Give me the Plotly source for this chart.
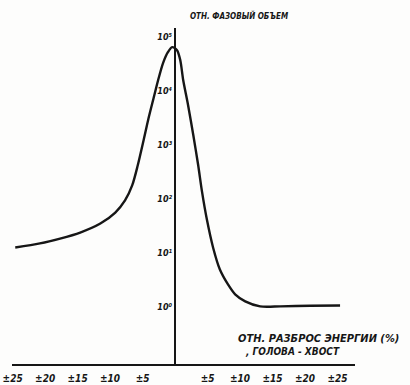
import plotly.graph_objects as go

# Energy spread (%), head (negative) - tail (positive)
energy_spread = [-24.6, -20.8, -17.7, -14.6, -11.5, -9.2, -7.7, -6.6, -5.75, -4.8, -4.1, -3.3, -2.6,
                 -1.85, -1.1, -0.45, 0.3, 0.8, 1.25, 2.0, 2.8, 3.55, 4.15, 4.9, 5.85, 6.9, 8.15,
                 9.25, 10.8, 13.1, 16.2, 20.8, 25.4]
# Relative phase volume
phase_volume = [12.8, 15.2, 18.7, 24.2, 35.5, 56.6, 95, 180, 420, 1300, 3100, 7500, 16100,
                33100, 52800, 65300, 57500, 37700, 16100, 5560, 1560, 434, 138, 42, 12.8, 5.0, 2.65,
                1.74, 1.29, 1.04, 1.04, 1.07, 1.08]

x_tick_vals = [-25, -20, -15, -10, -5, 5, 10, 15, 20, 25]
x_tick_text = ["±25", "±20", "±15", "±10", "±5", "±5", "±10", "±15", "±20", "±25"]
y_tick_vals = [1, 10, 100, 1000, 10000, 100000]
y_tick_text = ["10⁰", "10¹", "10²", "10³", "10⁴", "10⁵"]

y_title = "ОТН. ФАЗОВЫЙ ОБЪЕМ"
x_title_1 = "ОТН. РАЗБРОС ЭНЕРГИИ (%)"
x_title_2 = ", ГОЛОВА - ХВОСТ"

ink = "#161616"
fam = "DejaVu Sans Condensed, DejaVu Sans"
font = dict(family=fam, size=8, color=ink, weight="bold", style="italic")
tfont = dict(family=fam, size=10, color=ink, weight="bold", style="italic")
yfont = dict(family=fam, size=9, color=ink, weight="bold", style="italic")
x1font = dict(family=fam, size=11, color=ink, weight="bold", style="italic")
x2font = dict(family=fam, size=10, color=ink, weight="bold", style="italic")

fig = go.Figure()
fig.add_trace(go.Scatter(x=energy_spread, y=phase_volume, mode="lines",
                         line=dict(color=ink, width=2.4, shape="spline", smoothing=0.8),
                         hoverinfo="skip", showlegend=False))

x_range = [-25.1, 27.7]
y_pos = (0 - x_range[0]) / (x_range[1] - x_range[0])

fig.update_layout(
    width=410, height=385,
    margin=dict(l=12, r=55, t=28, b=21, autoexpand=False),
    paper_bgcolor="#fdfdfc", plot_bgcolor="#fdfdfc",
    font=font,
    xaxis=dict(range=x_range, showgrid=False, zeroline=False, showline=True, automargin=False,
               linecolor=ink, linewidth=1.6, tickvals=x_tick_vals, ticktext=x_tick_text,
               ticks="", tickfont=tfont, ticklabelstandoff=4),
    yaxis=dict(type="log", range=[-1.05, 5.17], showgrid=False, zeroline=False, automargin=False,
               showline=True, linecolor=ink, linewidth=2.2, anchor="free", position=y_pos,
               tickvals=y_tick_vals, ticktext=y_tick_text, ticks="", tickfont=yfont),
    annotations=[
        dict(text=y_title, xref="paper", yref="paper", x=(188 - 12) / 343, y=1.0,
             yshift=13, xanchor="left", yanchor="middle", showarrow=False, font=font),
        dict(text=x_title_1, xref="paper", yref="paper", x=(236 - 12) / 343, y=(364 - 338) / 336,
             xanchor="left", yanchor="middle", showarrow=False, font=x1font),
        dict(text=x_title_2, xref="paper", yref="paper", x=(243 - 12) / 343, y=(364 - 351) / 336,
             xanchor="left", yanchor="middle", showarrow=False, font=x2font),
    ],
)

fig.write_html("out.html", config={"displayModeBar": False},
               post_script="document.body.style.margin='0px';document.body.style.overflow='hidden';")
